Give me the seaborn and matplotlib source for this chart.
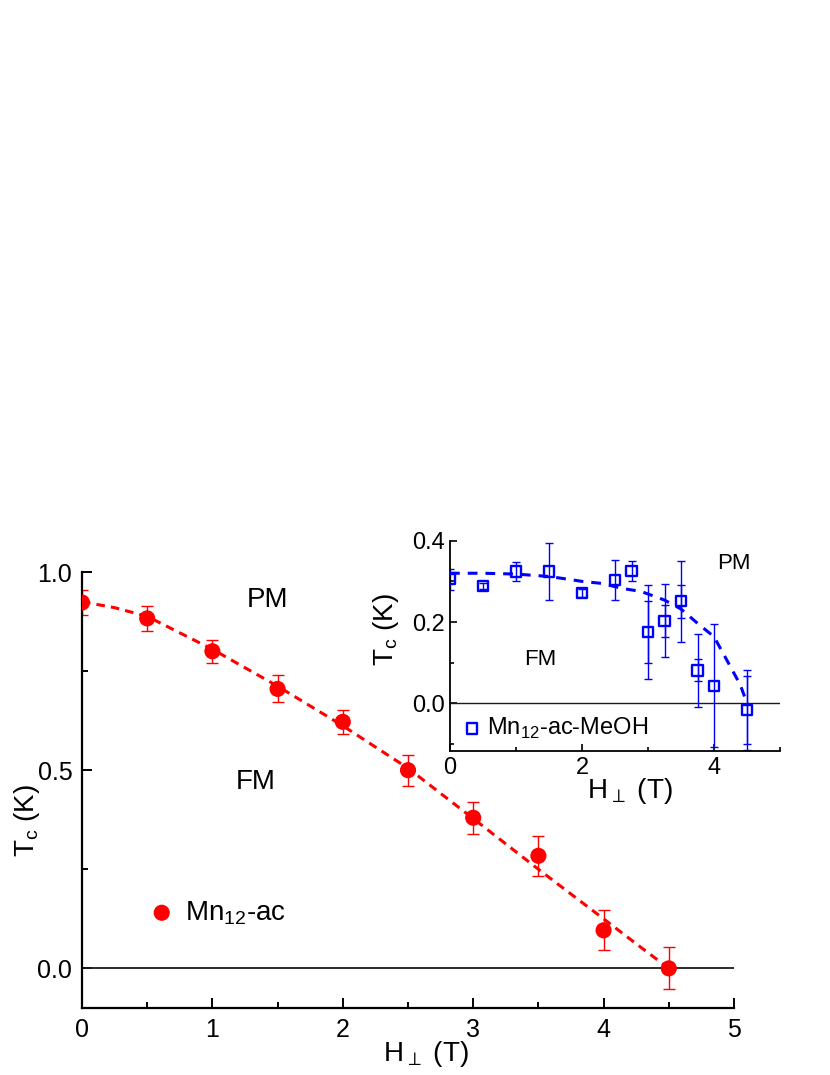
import numpy as np
import matplotlib
matplotlib.use("Agg")
import matplotlib.pyplot as plt
import seaborn as sns
from matplotlib.ticker import MultipleLocator, FormatStrFormatter

# Main panel: Mn12-ac
h_ac = [0.0, 0.5, 1.0, 1.5, 2.0, 2.5, 3.0, 3.5, 4.0, 4.5]
tc_ac = [0.923, 0.883, 0.800, 0.705, 0.622, 0.500, 0.380, 0.284, 0.096, 0.0]
err_ac = [0.031, 0.031, 0.029, 0.034, 0.030, 0.039, 0.040, 0.050, 0.050, 0.053]

fit_h_ac = [0.0, 0.25, 0.5, 1.0, 1.5, 2.0, 2.5, 3.0, 3.5, 4.0, 4.25, 4.5]
fit_tc_ac = [0.925, 0.910, 0.888, 0.805, 0.712, 0.612, 0.505, 0.378, 0.250, 0.125, 0.062, 0.0]

# Inset: Mn12-ac-MeOH
h_meoh = [0.0, 0.5, 1.0, 1.5, 2.0, 2.5, 2.75, 3.0, 3.25, 3.5, 3.75, 4.0, 4.5]
tc_meoh = [0.305, 0.289, 0.324, 0.324, 0.271, 0.303, 0.326, 0.176, 0.203, 0.251, 0.081, 0.043, -0.016]
err_meoh = [0.025, 0.008, 0.024, 0.071, 0.010, 0.050, 0.025, 0.115, 0.090, 0.100, 0.089, 0.151, 0.099]
err_meoh_inner = [np.nan, np.nan, np.nan, np.nan, np.nan, np.nan, np.nan,
                  0.076, 0.040, 0.040, 0.027, np.nan, 0.084]

fit_h_meoh = [0.0, 0.5, 1.0, 1.5, 1.8, 2.0, 2.3, 2.6, 2.9, 3.25, 3.5, 3.75, 4.0, 4.25, 4.4, 4.5]
fit_tc_meoh = [0.320, 0.320, 0.318, 0.312, 0.305, 0.300, 0.295, 0.283, 0.275, 0.254,
               0.232, 0.197, 0.164, 0.090, 0.045, 0.0]

RED = "#ff0000"
BLUE = "#0000ff"

sns.set_theme(style="ticks", rc={
    "text.color": "black", "axes.labelcolor": "black", "axes.edgecolor": "black",
    "xtick.color": "black", "ytick.color": "black"})
plt.rcParams["font.family"] = ["Liberation Sans", "DejaVu Sans"]
plt.rcParams["mathtext.fontset"] = "dejavusans"

fig = plt.figure(figsize=(8.3, 10.75), dpi=100)

# ---- main axes
ax = fig.add_axes([82 / 830, 1 - 1008 / 1075, 652 / 830, 436 / 1075])
ax.axhline(0, color="k", lw=1.3, zorder=1)
ax.errorbar(h_ac, tc_ac, yerr=err_ac, fmt="none", ecolor=RED, elinewidth=1.0,
            capsize=4.3, capthick=1.0, zorder=2)
sns.lineplot(x=fit_h_ac, y=fit_tc_ac, ax=ax, color=RED, lw=2.2,
             linestyle=(0, (2.8, 2.0)), zorder=3)
sns.scatterplot(x=h_ac, y=tc_ac, ax=ax, color=RED, s=135, edgecolor="none",
                marker="o", label="Mn$_\\mathregular{12}$-ac", zorder=4)

ax.set_xlim(0, 5)
ax.set_ylim(-0.1, 1.0)
ax.xaxis.set_major_locator(MultipleLocator(1))
ax.xaxis.set_minor_locator(MultipleLocator(0.5))
ax.yaxis.set_major_locator(MultipleLocator(0.5))
ax.yaxis.set_minor_locator(MultipleLocator(0.25))
ax.yaxis.set_major_formatter(FormatStrFormatter("%.1f"))
ax.tick_params(which="both", direction="in", width=1.4, labelsize=18, pad=7)
ax.tick_params(which="major", length=7)
ax.tick_params(which="minor", length=4)
for s in ["top", "right"]:
    ax.spines[s].set_visible(False)
for s in ["left", "bottom"]:
    ax.spines[s].set_linewidth(1.6)

ax.set_xlabel("H$_\\perp$ (T)", fontsize=20)
ax.set_ylabel("T$_\\mathregular{c}$ (K)", fontsize=20)
ax.xaxis.set_label_coords(0.528, -0.07)
ax.yaxis.set_label_coords(-0.062, 0.43)

ax.text(1.42, 0.93, "PM", fontsize=20, ha="center", va="center")
ax.text(1.33, 0.47, "FM", fontsize=20, ha="center", va="center")
ax.legend(loc="center left", bbox_to_anchor=(0.101, 0.218), frameon=False,
          fontsize=20, handlelength=1.0, handletextpad=0.35, borderpad=0,
          borderaxespad=0)

# ---- inset axes
ins = fig.add_axes([450 / 830, 1 - 751 / 1075, 330 / 830, 210.3 / 1075])
ins.set_facecolor("none")
ins.axhline(0, color="k", lw=1.0, zorder=1)
ins.errorbar(h_meoh, tc_meoh, yerr=err_meoh, fmt="none", ecolor=BLUE,
             elinewidth=1.0, capsize=2.6, capthick=1.0, zorder=2)
inner = ~np.isnan(err_meoh_inner)
ins.errorbar(np.array(h_meoh)[inner], np.array(tc_meoh)[inner],
             yerr=np.array(err_meoh_inner)[inner], fmt="none", ecolor=BLUE,
             elinewidth=1.0, capsize=2.6, capthick=1.0, zorder=2)
sns.lineplot(x=fit_h_meoh, y=fit_tc_meoh, ax=ins, color=BLUE, lw=2.2,
             linestyle=(0, (3.2, 2.6)), zorder=3)
sns.scatterplot(x=h_meoh, y=tc_meoh, ax=ins, marker="s", s=55,
                facecolor="none", edgecolor=BLUE, linewidth=1.7,
                label="Mn$_\\mathregular{12}$-ac-MeOH", zorder=4)

ins.set_xlim(0, 5)
ins.set_ylim(-0.117, 0.4)
ins.xaxis.set_major_locator(MultipleLocator(2))
ins.xaxis.set_minor_locator(MultipleLocator(1))
ins.yaxis.set_major_locator(MultipleLocator(0.2))
ins.yaxis.set_minor_locator(MultipleLocator(0.1))
ins.yaxis.set_major_formatter(FormatStrFormatter("%.1f"))
ins.tick_params(which="both", direction="in", width=1.2, labelsize=17, pad=4)
ins.tick_params(which="major", length=5)
ins.tick_params(which="minor", length=3)
for s in ["top", "right"]:
    ins.spines[s].set_visible(False)
for s in ["left", "bottom"]:
    ins.spines[s].set_linewidth(1.3)

ins.set_xlabel("H$_\\perp$ (T)", fontsize=20)
ins.set_ylabel("T$_\\mathregular{c}$ (K)", fontsize=20)
ins.xaxis.set_label_coords(0.545, -0.12)
ins.yaxis.set_label_coords(-0.15, 0.575)

ins.text(4.30, 0.345, "PM", fontsize=16, ha="center", va="center")
ins.text(1.37, 0.107, "FM", fontsize=16, ha="center", va="center")
ins.legend(loc="center left", bbox_to_anchor=(0.045, 0.108), frameon=False,
           fontsize=17, handlelength=0.6, handletextpad=0.34, borderpad=0,
           borderaxespad=0)

fig.savefig("out.png", dpi=100)
